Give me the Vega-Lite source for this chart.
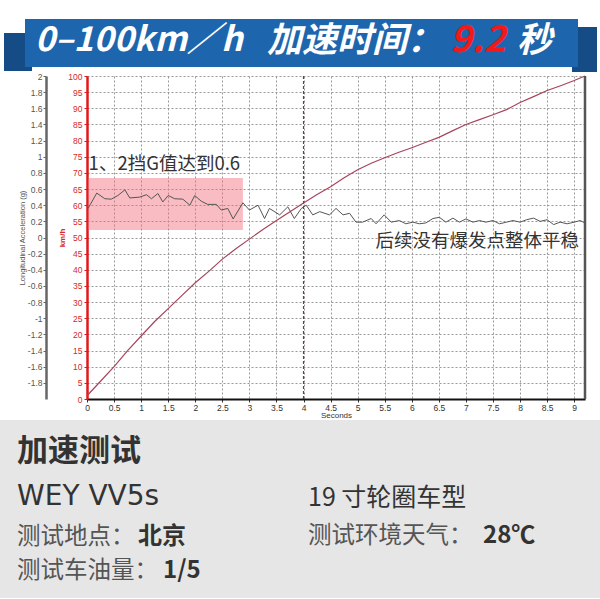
{
  "$schema": "https://vega.github.io/schema/vega-lite/v6.json",
  "padding": 0,
  "background": "white",
  "columns": 1,
  "align": "none",
  "spacing": 0,
  "config": {"view": {"stroke": null}},
  "datasets": {
    "bannerShapes": [
      {"x": 4, "x2": 32, "y": 33, "y2": 71, "part": "tab"},
      {"x": 572, "x2": 597, "y": 27, "y2": 72, "part": "tab"},
      {"x": 25, "x2": 578, "y": 19, "y2": 67, "part": "main"}
    ],
    "bannerLatin": [{"x": 35, "y": 41, "label": "0–100km／h"}],
    "bannerCJK": [{"x": 267, "y": 41, "label": "加速时间："}, {"x": 517, "y": 41, "label": "秒"}],
    "bannerValue": [{"x": 450, "y": 41, "label": "9.2"}],
    "zone": [{"t": 0.015, "t1": 2.88, "v": 52.3, "v1": 68.4}],
    "notes": [
      {"t": 0.03, "v": 72.8, "label": "1、2挡G值达到0.6"},
      {"t": 5.33, "v": 49.0, "label": "后续没有爆发点整体平稳"}
    ],
    "marker": [{"t": 4}],
    "border": [{"t": 9.2, "p0": 0, "p1": 1}],
    "speed": [
      {"t": 0, "v": 1}, {"t": 0.25, "v": 5.5}, {"t": 0.5, "v": 10}, {"t": 0.75, "v": 15},
      {"t": 1, "v": 19.5}, {"t": 1.25, "v": 24}, {"t": 1.5, "v": 28}, {"t": 1.75, "v": 32},
      {"t": 2, "v": 36}, {"t": 2.25, "v": 39.5}, {"t": 2.5, "v": 43.3}, {"t": 2.75, "v": 46.5},
      {"t": 3, "v": 49.5}, {"t": 3.25, "v": 52.5}, {"t": 3.5, "v": 55.3}, {"t": 3.75, "v": 58},
      {"t": 4, "v": 60.7}, {"t": 4.25, "v": 63.3}, {"t": 4.5, "v": 65.7}, {"t": 4.75, "v": 68.5},
      {"t": 5, "v": 71}, {"t": 5.25, "v": 73}, {"t": 5.5, "v": 74.7}, {"t": 5.75, "v": 76.3},
      {"t": 6, "v": 77.8}, {"t": 6.25, "v": 79.4}, {"t": 6.5, "v": 81}, {"t": 6.75, "v": 83},
      {"t": 7, "v": 85}, {"t": 7.25, "v": 86.5}, {"t": 7.5, "v": 88}, {"t": 7.75, "v": 89.6},
      {"t": 8, "v": 91.8}, {"t": 8.25, "v": 93.6}, {"t": 8.5, "v": 95.5}, {"t": 8.75, "v": 97},
      {"t": 9, "v": 98.6}, {"t": 9.2, "v": 100}
    ],
    "accel": [
      {"t": 0.02, "g": 0.36}, {"t": 0.18, "g": 0.55}, {"t": 0.33, "g": 0.48}, {"t": 0.45, "g": 0.475},
      {"t": 0.57, "g": 0.52}, {"t": 0.70, "g": 0.59}, {"t": 0.79, "g": 0.49}, {"t": 0.97, "g": 0.50},
      {"t": 1.10, "g": 0.53}, {"t": 1.19, "g": 0.48}, {"t": 1.31, "g": 0.545}, {"t": 1.40, "g": 0.44},
      {"t": 1.50, "g": 0.52}, {"t": 1.62, "g": 0.48}, {"t": 1.77, "g": 0.475}, {"t": 1.90, "g": 0.40},
      {"t": 1.99, "g": 0.52}, {"t": 2.11, "g": 0.45}, {"t": 2.23, "g": 0.41}, {"t": 2.39, "g": 0.41},
      {"t": 2.48, "g": 0.34}, {"t": 2.60, "g": 0.36}, {"t": 2.70, "g": 0.23}, {"t": 2.88, "g": 0.43},
      {"t": 3.00, "g": 0.34}, {"t": 3.16, "g": 0.40}, {"t": 3.28, "g": 0.235}, {"t": 3.37, "g": 0.36},
      {"t": 3.56, "g": 0.28}, {"t": 3.71, "g": 0.38}, {"t": 3.83, "g": 0.235}, {"t": 3.96, "g": 0.36},
      {"t": 4.05, "g": 0.40}, {"t": 4.17, "g": 0.28}, {"t": 4.30, "g": 0.32}, {"t": 4.48, "g": 0.28},
      {"t": 4.60, "g": 0.36}, {"t": 4.73, "g": 0.28}, {"t": 4.85, "g": 0.30}, {"t": 4.97, "g": 0.19},
      {"t": 5.09, "g": 0.19}, {"t": 5.25, "g": 0.235}, {"t": 5.34, "g": 0.17}, {"t": 5.49, "g": 0.28},
      {"t": 5.62, "g": 0.19}, {"t": 5.77, "g": 0.21}, {"t": 5.89, "g": 0.17}, {"t": 6.02, "g": 0.19},
      {"t": 6.14, "g": 0.17}, {"t": 6.26, "g": 0.18}, {"t": 6.39, "g": 0.235}, {"t": 6.51, "g": 0.25},
      {"t": 6.63, "g": 0.19}, {"t": 6.76, "g": 0.24}, {"t": 6.88, "g": 0.19}, {"t": 7.0, "g": 0.23},
      {"t": 7.13, "g": 0.19}, {"t": 7.25, "g": 0.21}, {"t": 7.37, "g": 0.19}, {"t": 7.5, "g": 0.21},
      {"t": 7.62, "g": 0.17}, {"t": 7.75, "g": 0.19}, {"t": 7.87, "g": 0.21}, {"t": 8.0, "g": 0.19},
      {"t": 8.12, "g": 0.22}, {"t": 8.25, "g": 0.24}, {"t": 8.37, "g": 0.2}, {"t": 8.5, "g": 0.22},
      {"t": 8.62, "g": 0.16}, {"t": 8.74, "g": 0.19}, {"t": 8.87, "g": 0.17}, {"t": 9.0, "g": 0.19},
      {"t": 9.11, "g": 0.21}, {"t": 9.2, "g": 0.18}
    ],
    "panel": [{"x": 0, "x2": 600, "y": 0, "y2": 178}],
    "infoTitle": [{"x": 17, "y": 32, "label": "加速测试"}],
    "infoModel": [{"x": 17, "y": 77, "label": "WEY VV5s"}],
    "infoWheel": [{"x": 308, "y": 78, "label": "19 寸轮圈车型"}],
    "infoKeys": [
      {"x": 17, "y": 117, "label": "测试地点："},
      {"x": 17, "y": 151, "label": "测试车油量："},
      {"x": 308, "y": 116, "label": "测试环境天气："}
    ],
    "infoValues": [
      {"x": 138, "y": 117, "label": "北京"},
      {"x": 163, "y": 151, "label": "1/5"},
      {"x": 483, "y": 116, "label": "28℃"}
    ]
  },
  "concat": [
    {
      "width": 513,
      "height": 72,
      "encoding": {
        "x": {"field": "x", "type": "quantitative", "scale": {"domain": [87, 600], "nice": false, "zero": false}, "axis": null},
        "y": {"field": "y", "type": "quantitative", "scale": {"domain": [0, 72], "nice": false, "reverse": true}, "axis": null}
      },
      "layer": [
        {
          "data": {"name": "bannerShapes"},
          "mark": {"type": "rect"},
          "encoding": {
            "x2": {"field": "x2"},
            "y2": {"field": "y2"},
            "color": {"field": "part", "type": "nominal", "scale": {"domain": ["tab", "main"], "range": ["#154c86", "#1d66ad"]}, "legend": null}
          }
        },
        {
          "data": {"name": "bannerLatin"},
          "mark": {"type": "text", "align": "left", "baseline": "middle", "font": "Noto Sans CJK SC", "fontSize": 34, "fontWeight": "bold", "fontStyle": "italic", "color": "white"},
          "encoding": {"text": {"field": "label"}}
        },
        {
          "data": {"name": "bannerCJK"},
          "mark": {"type": "text", "align": "left", "baseline": "middle", "font": "Noto Sans CJK SC", "fontSize": 35, "fontWeight": "bold", "fontStyle": "italic", "color": "white"},
          "encoding": {"text": {"field": "label"}}
        },
        {
          "data": {"name": "bannerValue"},
          "mark": {"type": "text", "align": "left", "baseline": "middle", "font": "Noto Sans CJK SC", "fontSize": 37, "fontWeight": "bold", "fontStyle": "italic", "color": "#f01a1a"},
          "encoding": {"text": {"field": "label"}}
        }
      ]
    },
    {
      "width": 498,
      "height": 323,
      "encoding": {
        "x": {
          "field": "t", "type": "quantitative",
          "scale": {"domain": [0, 9.2], "nice": false},
          "axis": {
            "values": [0, 0.5, 1, 1.5, 2, 2.5, 3, 3.5, 4, 4.5, 5, 5.5, 6, 6.5, 7, 7.5, 8, 8.5, 9],
            "format": "~g", "labelFlush": false, "labelOverlap": false, "labelFont": "Liberation Sans", "labelFontSize": 8.5,
            "labelColor": "#333", "labelPadding": 1, "domainColor": "#111", "domainWidth": 2,
            "tickColor": "#333", "tickSize": 3, "title": "Seconds", "titleFont": "Liberation Sans",
            "titleFontSize": 8, "titleFontWeight": "normal", "titleColor": "#333", "titlePadding": 0,
            "grid": true, "gridDash": [2, 2], "gridColor": "#999"
          }
        }
      },
      "layer": [
        {
          "data": {"name": "marker"},
          "mark": {"type": "rule", "color": "#6b3b3b", "strokeDash": [3, 2], "strokeWidth": 1.2}
        },
        {
          "encoding": {
            "y": {
              "field": "v", "type": "quantitative",
              "scale": {"domain": [0, 100], "nice": false},
              "axis": {
                "orient": "left", "offset": 0,
                "values": [0, 5, 10, 15, 20, 25, 30, 35, 40, 45, 50, 55, 60, 65, 70, 75, 80, 85, 90, 95, 100],
                "labelOverlap": false,
                "domainColor": "#e01818", "domainWidth": 2.5, "tickColor": "#e01818", "tickSize": 3,
                "labelFont": "Liberation Sans", "labelColor": "#d42a2a", "labelFontSize": 8.5, "labelPadding": 2,
                "title": "km/h", "titleFont": "Liberation Sans", "titleColor": "#d42a2a", "titleFontSize": 8,
                "titleFontWeight": "bold", "titlePadding": 1,
                "grid": true, "gridDash": [2, 2], "gridColor": "#999"
              }
            }
          },
          "layer": [
            {
              "data": {"name": "zone"},
              "mark": {"type": "rect", "fill": "#f06b78", "opacity": 0.45},
              "encoding": {"x2": {"field": "t1"}, "y2": {"field": "v1"}}
            },
            {
              "data": {"name": "speed"},
              "mark": {"type": "line", "color": "#a8445a", "strokeWidth": 1.2}
            },
            {
              "data": {"name": "notes"},
              "mark": {"type": "text", "align": "left", "baseline": "middle", "font": "Noto Sans CJK SC", "fontSize": 18.5, "color": "#333"},
              "encoding": {"text": {"field": "label"}}
            }
          ]
        },
        {
          "data": {"name": "accel"},
          "mark": {"type": "line", "color": "#555", "strokeWidth": 1},
          "encoding": {
            "y": {
              "field": "g", "type": "quantitative",
              "scale": {"domain": [-2, 2], "nice": false},
              "axis": {
                "orient": "left", "offset": 41,
                "values": [-1.8, -1.6, -1.4, -1.2, -1, -0.8, -0.6, -0.4, -0.2, 0, 0.2, 0.4, 0.6, 0.8, 1, 1.2, 1.4, 1.6, 1.8, 2],
                "labelExpr": "'' + datum.value", "labelOverlap": false,
                "domainColor": "#666", "domainWidth": 2.5, "tickColor": "#666", "tickSize": 3,
                "labelFont": "Liberation Sans", "labelColor": "#555", "labelFontSize": 8.5, "labelPadding": 1,
                "title": "Longitudinal Acceleration (g)", "titleFont": "Liberation Sans", "titleFontSize": 7.5,
                "titleFontWeight": "normal", "titleColor": "#555", "titlePadding": 1, "grid": false
              }
            }
          }
        },
        {
          "data": {"name": "border"},
          "mark": {"type": "rule", "color": "#555", "strokeWidth": 2.5},
          "encoding": {
            "y": {"field": "p0", "type": "quantitative", "scale": {"domain": [0, 1], "nice": false}, "axis": null},
            "y2": {"field": "p1"}
          }
        }
      ],
      "resolve": {"scale": {"y": "independent"}}
    },
    {
      "width": 513,
      "height": 178,
      "encoding": {
        "x": {"field": "x", "type": "quantitative", "scale": {"domain": [87, 600], "nice": false, "zero": false}, "axis": null},
        "y": {"field": "y", "type": "quantitative", "scale": {"domain": [0, 178], "nice": false, "reverse": true}, "axis": null}
      },
      "layer": [
        {
          "data": {"name": "panel"},
          "mark": {"type": "rect", "fill": "#e6e6e6"},
          "encoding": {"x2": {"field": "x2"}, "y2": {"field": "y2"}}
        },
        {
          "data": {"name": "infoTitle"},
          "mark": {"type": "text", "align": "left", "baseline": "middle", "font": "Noto Sans CJK SC", "fontSize": 31, "fontWeight": "bold", "color": "#333"},
          "encoding": {"text": {"field": "label"}}
        },
        {
          "data": {"name": "infoModel"},
          "mark": {"type": "text", "align": "left", "baseline": "middle", "font": "DejaVu Sans", "fontSize": 28, "color": "#333"},
          "encoding": {"text": {"field": "label"}}
        },
        {
          "data": {"name": "infoWheel"},
          "mark": {"type": "text", "align": "left", "baseline": "middle", "font": "Noto Sans CJK SC", "fontSize": 25, "color": "#333"},
          "encoding": {"text": {"field": "label"}}
        },
        {
          "data": {"name": "infoKeys"},
          "mark": {"type": "text", "align": "left", "baseline": "middle", "font": "Noto Sans CJK SC", "fontSize": 23.5, "color": "#555"},
          "encoding": {"text": {"field": "label"}}
        },
        {
          "data": {"name": "infoValues"},
          "mark": {"type": "text", "align": "left", "baseline": "middle", "font": "Noto Sans CJK SC", "fontSize": 24, "fontWeight": "bold", "color": "#333"},
          "encoding": {"text": {"field": "label"}}
        }
      ]
    }
  ]
}
